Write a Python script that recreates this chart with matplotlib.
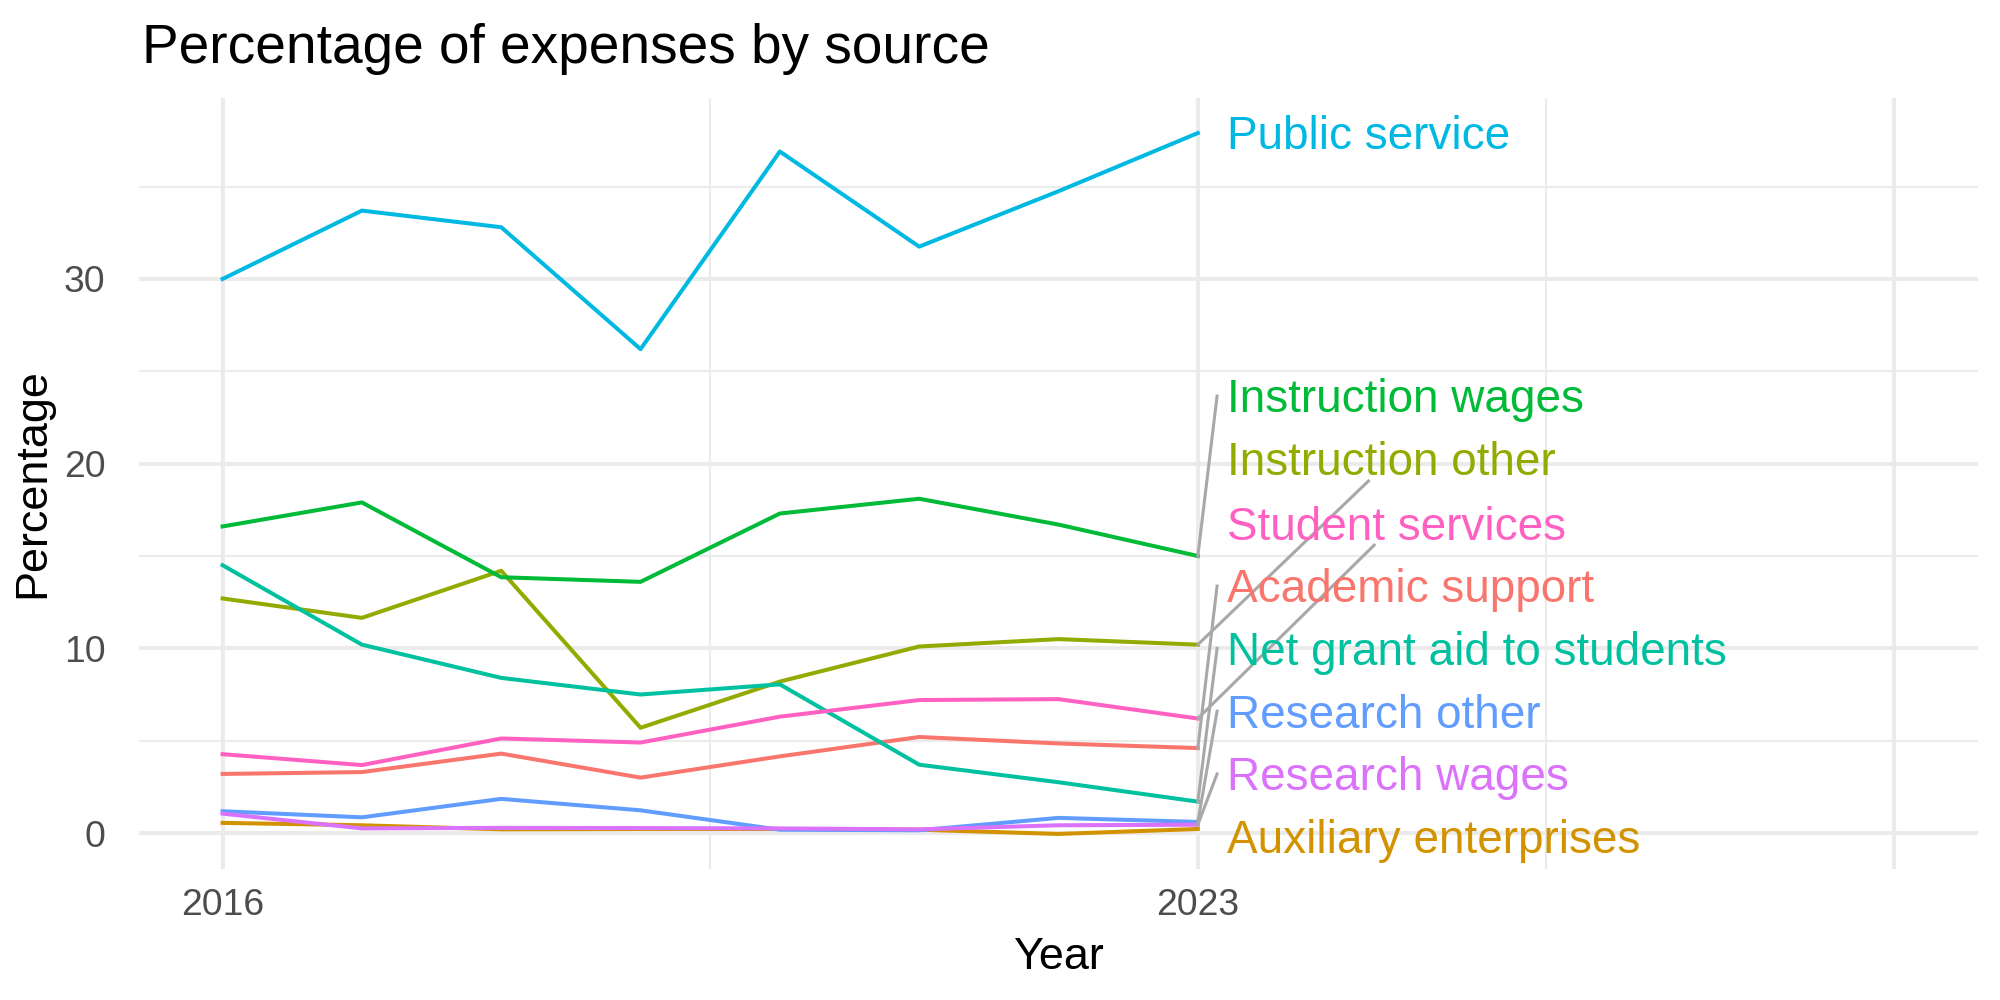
import numpy as np
import matplotlib
matplotlib.use("Agg")
import matplotlib.pyplot as plt

plt.rcParams["font.family"] = ["Liberation Sans", "DejaVu Sans"]

# data
years = [2016, 2017, 2018, 2019, 2020, 2021, 2022, 2023]
series = ["Academic support", "Auxiliary enterprises", "Instruction other", "Instruction wages",
          "Net grant aid to students", "Public service", "Research other", "Research wages",
          "Student services"]
academic_support = [3.2, 3.3, 4.3, 3.0, 4.15, 5.2, 4.85, 4.6]
auxiliary_enterprises = [0.55, 0.42, 0.2, 0.22, 0.22, 0.18, -0.05, 0.22]
instruction_other = [12.7, 11.65, 14.2, 5.7, 8.2, 10.1, 10.5, 10.2]
instruction_wages = [16.6, 17.9, 13.85, 13.6, 17.3, 18.1, 16.7, 15.0]
net_grant_aid = [14.5, 10.2, 8.4, 7.5, 8.05, 3.7, 2.75, 1.7]
public_service = [30.0, 33.7, 32.8, 26.2, 36.9, 31.75, 34.75, 37.9]
research_other = [1.18, 0.85, 1.85, 1.23, 0.18, 0.15, 0.82, 0.6]
research_wages = [1.05, 0.25, 0.28, 0.27, 0.25, 0.2, 0.42, 0.45]
student_services = [4.27, 3.68, 5.12, 4.9, 6.3, 7.2, 7.25, 6.2]
values = [academic_support, auxiliary_enterprises, instruction_other, instruction_wages,
          net_grant_aid, public_service, research_other, research_wages, student_services]

# ggplot hue palette, 9 levels
colors = ["#F8766D", "#D39200", "#93AA00", "#00BA38", "#00C19F",
          "#00B9E3", "#619CFF", "#DB72FB", "#FF61C3"]

# repelled label layout (where the labels ended up) and how the leader attaches
label_y = [13.37, -0.22, 20.25, 23.66, 10.0, 37.9, 6.6, 3.2, 16.78]
connect = ["left", None, "bottom", "left", "left", None, "left", "left", "bottom"]

fig, ax = plt.subplots(figsize=(10, 5), dpi=200)
fig.subplots_adjust(left=0.0695, right=0.989, top=0.902, bottom=0.131)

for name, vals, col in zip(series, values, colors):
    ax.plot(years, vals, color=col, lw=1.45, zorder=3)

allv = np.concatenate(values)
lo, hi = allv.min(), allv.max()
ax.set_ylim(lo - 0.05 * (hi - lo), hi + 0.05 * (hi - lo))
ax.set_xlim(2016 - 0.6, 2028 + 0.6)

ax.set_xticks([2016, 2023, 2028])
ax.set_xticklabels(["2016", "2023", ""])
ax.set_xticks([2019.5, 2025.5], minor=True)
ax.set_yticks([0, 10, 20, 30])
ax.set_yticks([5, 15, 25, 35], minor=True)
ax.grid(which="major", color="#EBEBEB", lw=1.45, zorder=0)
ax.grid(which="minor", color="#EBEBEB", lw=0.75, zorder=0)
ax.set_axisbelow(True)
for sp in ax.spines.values():
    sp.set_visible(False)
ax.tick_params(which="both", length=0)
ax.tick_params(axis="x", labelsize=13.4, labelcolor="#4D4D4D", pad=7)
ax.tick_params(axis="y", labelsize=13.4, labelcolor="#4D4D4D", pad=12)
ax.set_xlabel("Year", fontsize=16.2, labelpad=5)
ax.set_ylabel("Percentage", fontsize=16.2, labelpad=4)

fig.text(0.071, 1 - 0.063, "Percentage of expenses by source", fontsize=19.8, va="baseline")

texts = []
for name, ly, col in zip(series, label_y, colors):
    t = ax.annotate(name, (2023.21, ly), xytext=(0, -5.9), textcoords="offset points",
                    ha="left", va="baseline", color=col, fontsize=16.5, zorder=5,
                    annotation_clip=False)
    texts.append(t)

# leader segments from the last point to the label box
fig.canvas.draw()
rend = fig.canvas.get_renderer()
inv = ax.transData.inverted()
for t, vals, ly, how in zip(texts, values, label_y, connect):
    if how is None:
        continue
    bb = t.get_window_extent(rend)
    px, py = ax.transData.transform((years[-1], vals[-1]))
    _, cy = ax.transData.transform((2023.21, ly))
    if how == "left":
        ex, ey = bb.x0 - 10, cy
    else:
        cx = (bb.x0 + bb.x1) / 2
        ybot = cy - 22
        s = (ybot - py) / (cy - py)
        ex, ey = px + s * (cx - px), ybot
    (x0, y0), (x1, y1) = inv.transform([(px, py), (ex, ey)])
    ax.plot([x0, x1], [y0, y1], color="#A8A8A8", lw=1.1, zorder=4, clip_on=False)

fig.savefig("out.png", dpi=200)
